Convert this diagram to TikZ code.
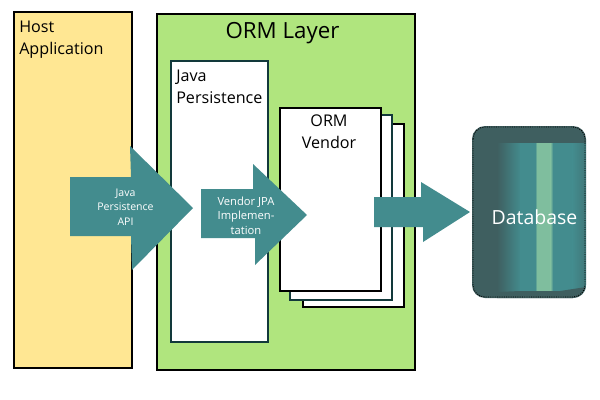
\documentclass[tikz,border=0pt]{standalone}
\usepackage{fontspec}
\setmainfont{Open Sans}
\definecolor{hostfill}{HTML}{FFE793}
\definecolor{ormfill}{HTML}{B0E57E}
\definecolor{tealfill}{HTML}{438C8E}
\definecolor{dbdark}{HTML}{3F5F60}
\definecolor{edgedark}{HTML}{12393B}
\definecolor{dbstreak}{HTML}{7FBE9E}
\tikzset{
  x=0.75pt,y=-0.75pt,
  boxbase/.style={draw,rectangle,anchor=north west,inner sep=0pt,outer sep=0pt},
  hostbox/.style={boxbase,fill=hostfill,line width=1.6pt},
  ormbox/.style={boxbase,fill=ormfill,line width=1.6pt},
  pagebox/.style={boxbase,fill=white,line width=1.5pt},
  tealbox/.style={boxbase,fill=white,draw=edgedark,line width=1.5pt},
  bigarrow/.style={fill=tealfill,draw=none},
  lab/.style={inner sep=0pt,align=left,anchor=north west,text=black,font=\fontsize{12.1}{16}\selectfont},
  arrowlab/.style={inner sep=0pt,align=center,text=white,font=\fontsize{7.9}{10.8}\selectfont},
  arrowlabb/.style={arrowlab,font=\fontsize{8.4}{10.8}\selectfont},
}
\begin{document}
\begin{tikzpicture}
\useasboundingbox (0,0) rectangle (600,400);
\fill[white] (0,0) rectangle (600,400);
% boxes
\node[hostbox,minimum width=88.5pt,minimum height=267pt] (host) at (14,12) {};
\node[ormbox,minimum width=193.5pt,minimum height=267pt] (orm) at (157,14) {};
\node[tealbox,minimum width=72.75pt,minimum height=210.75pt] (jp) at (171,61) {};
\node[pagebox,minimum width=75.75pt,minimum height=137.25pt] (v3) at (303,124) {};
\node[tealbox,minimum width=76.5pt,minimum height=138.75pt] (v2) at (290,115) {};
\node[tealbox,draw=black,minimum width=75.75pt,minimum height=137.25pt] (v1) at (280,108) {};
% labels
\node[lab] (hostl) at (19,21) {Host\\Application};
\node[inner sep=0pt,text=black,font=\fontsize{16.7}{20}\selectfont] (orml) at (282.5,33) {ORM Layer};
\node[lab] (jpl) at (176,70) {Java\\Persistence};
\node[lab,align=center,anchor=north] (v1l) at (329,115) {ORM\\Vendor};
% database
\fill[dbdark,rounded corners=9.75pt] (472,126) rectangle (586,298);
\begin{scope}
  \clip[rounded corners=9.75pt] (472,126) rectangle (586,298);
  \shade[left color=dbdark,right color=tealfill] (497,143) rectangle (521,291);
  \fill[tealfill] (520,143) rectangle (536,291);
  \shade[left color=tealfill,right color=dbstreak] (535,143) rectangle (537,291);
  \fill[dbstreak] (536.5,143) rectangle (551,291);
  \shade[left color=dbstreak,right color=tealfill] (550.5,143) rectangle (553,291);
  \fill[tealfill] (552.5,143) rectangle (573,291);
  \shade[left color=tealfill,right color=tealfill!55!dbdark] (572.5,143) rectangle (586,291);
  \fill[dbdark] (497,292) -- (520,291) -- (560,291) -- (586,287) -- (586,298) -- (497,298) -- cycle;
\end{scope}
\draw[black,densely dotted,line width=0.7pt,rounded corners=9pt] (473,127) rectangle (585,297);
\node[inner sep=0pt,text=white,font=\fontsize{14.6}{16}\selectfont] (db) at (534.5,217) {Database};
% arrows
\fill[bigarrow] (70,177) -- (131,177) -- (130,146) -- (193,208) -- (132,270) -- (131,236) -- (70,236) -- cycle;
\fill[bigarrow] (201,189) -- (253,189) -- (253,164) -- (307,215) -- (255,265) -- (255,238) -- (201,238) -- cycle;
\fill[bigarrow] (374,197) -- (421,197) -- (421,182) -- (470,212) -- (423,242) -- (423,227) -- (374,227) -- cycle;
\node[arrowlab] (a1) at (125.5,207) {Java\\Persistence\\API};
\node[arrowlabb] (a2) at (246,215.5) {Vendor JPA\\Implemen-\\tation};
\end{tikzpicture}
\end{document}
